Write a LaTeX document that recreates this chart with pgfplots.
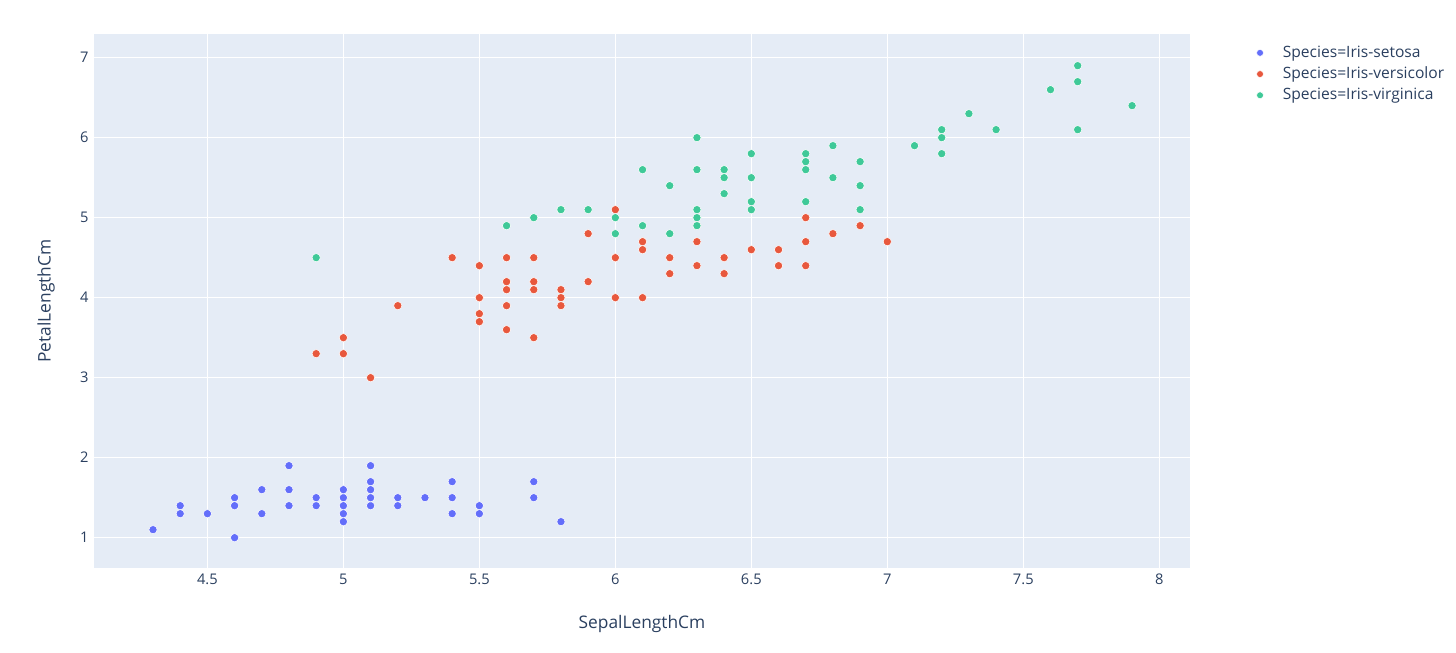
\documentclass[border=0pt]{standalone}
\usepackage{pgfplots}
\pgfplotsset{compat=1.18}
\usepackage{fontspec}
\setmainfont{Open Sans}
\definecolor{bgc}{HTML}{E5ECF6}
\definecolor{txt}{HTML}{2A3F5F}
\definecolor{cA}{HTML}{636EFA}
\definecolor{cB}{HTML}{E8583D}
\definecolor{cC}{HTML}{3FC998}
\begin{document}
\begin{tikzpicture}[x=1pt,y=1pt]
\useasboundingbox (0,0) rectangle (1092,489.75);
\begin{axis}[
  at={(70.5pt,63.75pt)}, anchor=south west,
  scale only axis, width=822pt, height=400.5pt,
  xmin=4.083, xmax=8.113, ymin=0.621, ymax=7.296,
  axis background/.style={fill=bgc},
  axis line style={draw=none},
  major tick length=0pt,
  grid=major, grid style={white, line width=0.75pt},
  xtick={4.5,5,5.5,6,6.5,7,7.5,8},
  ytick={1,2,3,4,5,6,7},
  xticklabels={4.5,5,5.5,6,6.5,7,7.5,8},
  /pgf/number format/assume math mode=true,
  tick label style={font=\fontsize{11}{12}\selectfont, text=txt},
  xticklabel style={yshift=-1pt},
  yticklabel style={xshift=-0.5pt},
  xlabel={SepalLengthCm}, ylabel={PetalLengthCm},
  label style={font=\fontsize{13}{15}\selectfont, text=txt},
  xlabel style={at={(axis description cs:0.5,0)}, anchor=center, yshift=-42pt},
  ylabel style={at={(axis description cs:0,0.5)}, anchor=center, rotate=0, yshift=36pt},
  legend style={at={(axis description cs:1.0595,0.982)}, anchor=north west, draw=none, fill=none,
    font=\fontsize{11.7}{13}\selectfont, text=txt, row sep=2.4pt, inner sep=0pt,
    nodes={inner sep=1pt, text height=9pt, text depth=2.5pt}},
  legend cell align=left,
  legend image code/.code={\path[draw=none,fill=none] (0pt,-1pt) rectangle (19.5pt,1pt);\draw[#1, mark size=2.6pt] plot coordinates {(0.12cm,0cm)};},
  clip=false,
]
\addplot[only marks, mark=*, mark size=3.1pt, mark options={fill=cA, draw=white, line width=0.4pt}] table {
x y
5.1 1.4
4.9 1.4
4.7 1.3
4.6 1.5
5.0 1.4
5.4 1.7
4.6 1.4
5.0 1.5
4.4 1.4
4.9 1.5
5.4 1.5
4.8 1.6
4.8 1.4
4.3 1.1
5.8 1.2
5.7 1.5
5.4 1.3
5.1 1.4
5.7 1.7
5.1 1.5
5.4 1.7
5.1 1.5
4.6 1.0
5.1 1.7
4.8 1.9
5.0 1.6
5.0 1.6
5.2 1.5
5.2 1.4
4.7 1.6
4.8 1.6
5.4 1.5
5.2 1.5
5.5 1.4
4.9 1.5
5.0 1.2
5.5 1.3
4.9 1.5
4.4 1.3
5.1 1.5
5.0 1.3
4.5 1.3
4.4 1.3
5.0 1.6
5.1 1.9
4.8 1.4
5.1 1.6
4.6 1.4
5.3 1.5
5.0 1.4
};
\addlegendentry{Species=Iris-setosa}
\addplot[only marks, mark=*, mark size=3.1pt, mark options={fill=cB, draw=white, line width=0.4pt}] table {
x y
7.0 4.7
6.4 4.5
6.9 4.9
5.5 4.0
6.5 4.6
5.7 4.5
6.3 4.7
4.9 3.3
6.6 4.6
5.2 3.9
5.0 3.5
5.9 4.2
6.0 4.0
6.1 4.7
5.6 3.6
6.7 4.4
5.6 4.5
5.8 4.1
6.2 4.5
5.6 3.9
5.9 4.8
6.1 4.0
6.3 4.9
6.1 4.7
6.4 4.3
6.6 4.4
6.8 4.8
6.7 5.0
6.0 4.5
5.7 3.5
5.5 3.8
5.5 3.7
5.8 3.9
6.0 5.1
5.4 4.5
6.0 4.5
6.7 4.7
6.3 4.4
5.6 4.1
5.5 4.0
5.5 4.4
6.1 4.6
5.8 4.0
5.0 3.3
5.6 4.2
5.7 4.2
5.7 4.2
6.2 4.3
5.1 3.0
5.7 4.1
};
\addlegendentry{Species=Iris-versicolor}
\addplot[only marks, mark=*, mark size=3.1pt, mark options={fill=cC, draw=white, line width=0.4pt}] table {
x y
6.3 6.0
5.8 5.1
7.1 5.9
6.3 5.6
6.5 5.8
7.6 6.6
4.9 4.5
7.3 6.3
6.7 5.8
7.2 6.1
6.5 5.1
6.4 5.3
6.8 5.5
5.7 5.0
5.8 5.1
6.4 5.3
6.5 5.5
7.7 6.7
7.7 6.9
6.0 5.0
6.9 5.7
5.6 4.9
7.7 6.7
6.3 4.9
6.7 5.7
7.2 6.0
6.2 4.8
6.1 4.9
6.4 5.6
7.2 5.8
7.4 6.1
7.9 6.4
6.4 5.6
6.3 5.1
6.1 5.6
7.7 6.1
6.3 5.6
6.4 5.5
6.0 4.8
6.9 5.4
6.7 5.6
6.9 5.1
5.8 5.1
6.8 5.9
6.7 5.7
6.7 5.2
6.3 5.0
6.5 5.2
6.2 5.4
5.9 5.1
};
\addlegendentry{Species=Iris-virginica}
\end{axis}
\end{tikzpicture}
\end{document}
